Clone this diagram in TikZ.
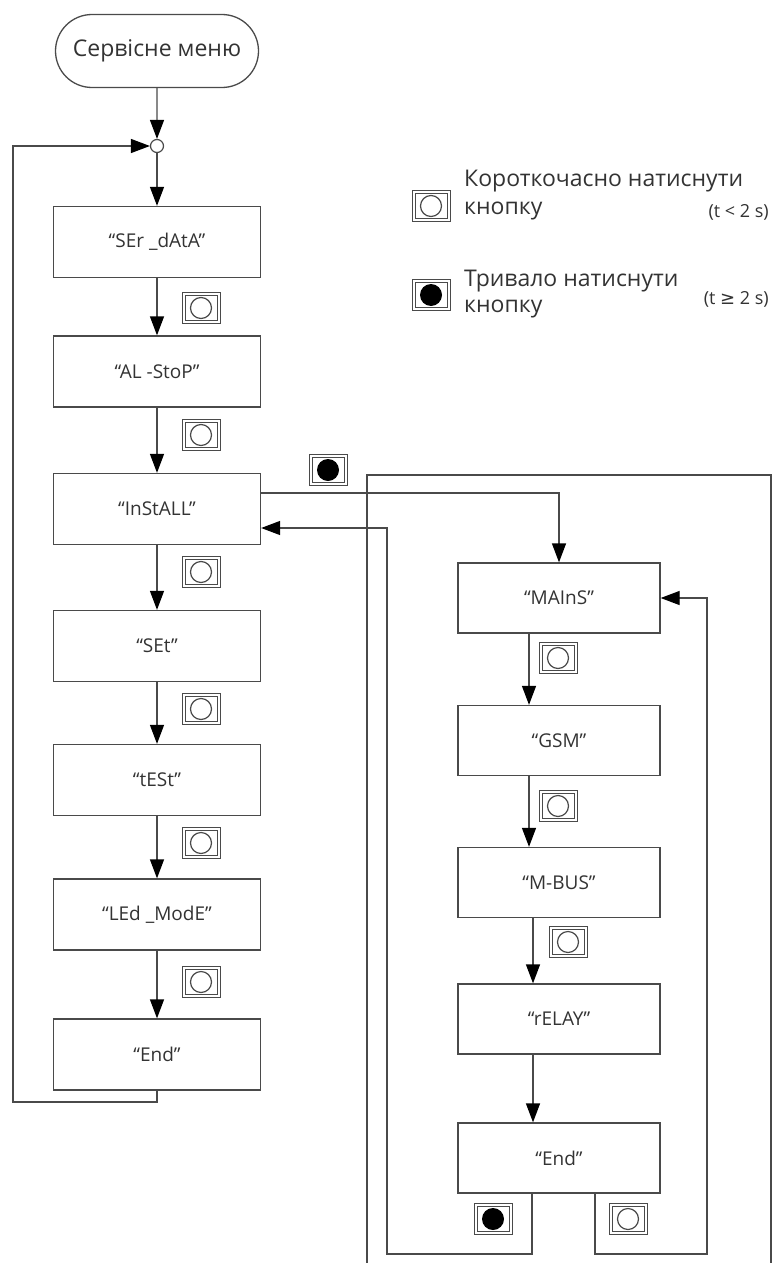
\documentclass[tikz,border=0pt]{standalone}
\usepackage{fontspec}
\setmainfont{Open Sans}
\newfontfamily\symfont{DejaVu Sans}
\usetikzlibrary{arrows.meta,shapes.misc}
\definecolor{lc}{HTML}{4A4A4A}
\definecolor{tc}{HTML}{333333}
\begin{document}
\begin{tikzpicture}[x=1pt,y=-1pt,
  line/.style={draw=lc, line width=1.3pt},
  arr/.style={line, -{Triangle[length=19pt,width=14pt,color=black]}},
  box/.style={draw=lc, line width=1.3pt, rectangle, minimum width=207pt, minimum height=71pt, inner sep=0pt, font=\fontsize{19}{22}\selectfont, text=tc},
  rbox/.style={box, minimum width=202pt, minimum height=70pt},
  term/.style={draw=lc, line width=1.3pt, rounded rectangle, minimum width=203pt, minimum height=73pt, inner sep=0pt, font=\fontsize{23}{26}\selectfont, text=tc},
  jnc/.style={draw=lc, line width=1.2pt, circle, fill=white, minimum size=13pt, inner sep=0pt},
  btn/.style={draw=lc, line width=1pt, minimum width=38pt, minimum height=31pt, inner sep=0pt},
  btnw/.style={btn, path picture={
    \draw[lc,line width=1pt] ([shift={(3pt,3pt)}]path picture bounding box.south west) rectangle ([shift={(-3pt,-3pt)}]path picture bounding box.north east);
    \draw[lc,line width=1.2pt] (path picture bounding box.center) circle (10.5pt);}},
  btnb/.style={btn, path picture={
    \draw[lc,line width=1pt] ([shift={(3pt,3pt)}]path picture bounding box.south west) rectangle ([shift={(-3pt,-3pt)}]path picture bounding box.north east);
    \fill[black] (path picture bounding box.center) circle (11pt);}},
  lgd/.style={anchor=west, inner sep=0pt, font=\fontsize{23}{26}\selectfont, text=tc},
  lgs/.style={anchor=east, inner sep=0pt, font=\fontsize{18}{21}\selectfont, text=tc}
]
\useasboundingbox (0,0) rectangle (775,1263);

% left column
\node[term] (start) at (157,51) {Сервісне меню};
\node[jnc] (jn) at (157,146) {};
\node[box] (ser) at (157,242) {“SEr \_dAtA”};
\node[box] (al) at (157,371.5) {“AL -StoP”};
\node[box] (inst) at (157,509) {“InStALL”};
\node[box] (set) at (157,646) {“SEt”};
\node[box] (test) at (157,780) {“tESt”};
\node[box] (led) at (157,914.5) {“LEd \_ModE”};
\node[box] (endl) at (157,1054.5) {“End”};

% right column
\node[rbox] (mains) at (559,598) {“MAInS”};
\node[rbox] (gsm) at (559,740.5) {“GSM”};
\node[rbox] (mbus) at (559,882.5) {“M-BUS”};
\node[rbox] (relay) at (559,1019) {“rELAY”};
\node[rbox] (endr) at (559,1158) {“End”};

% frame
\coordinate (fl) at (367,1263);
\coordinate (ftr) at (771,475);
\coordinate (fr) at (771,1263);
\draw[line] (fl) |- (ftr) -- (fr);

% left connectors
\draw[arr] (start) -- (jn);
\draw[arr] (jn) -- (ser);
\draw[arr] (ser) -- (al);
\draw[arr] (al) -- (inst);
\draw[arr] (inst) -- (set);
\draw[arr] (set) -- (test);
\draw[arr] (test) -- (led);
\draw[arr] (led) -- (endl);
\coordinate (lb) at (13,1102);
\draw[arr] (endl.south) |- (lb) |- (jn.west);

% to sub-menu
\draw[arr] ([yshift=16pt]inst.east) -| (mains.north);

% right connectors
\draw[arr] ([xshift=-30pt]mains.south) -- ([xshift=-30pt]gsm.north);
\draw[arr] ([xshift=-30pt]gsm.south) -- ([xshift=-30pt]mbus.north);
\draw[arr] ([xshift=-26pt]mbus.south) -- ([xshift=-26pt]relay.north);
\draw[arr] ([xshift=-26pt]relay.south) -- ([xshift=-26pt]endr.north);

\coordinate (bl) at (387,1254);
\coordinate (br) at (707,1254);
\draw[arr] ([xshift=-27pt]endr.south) |- (bl) |- ([yshift=-19pt]inst.east);
\draw[arr] ([xshift=36pt]endr.south) |- (br) |- (mains.east);

% buttons
\node[btnw] (b1) at (201,308) {};
\node[btnw] (b2) at (201,435) {};
\node[btnw] (b3) at (201,572) {};
\node[btnw] (b4) at (201,709) {};
\node[btnw] (b5) at (201,843) {};
\node[btnw] (b6) at (201,982) {};
\node[btnb] (b7) at (328,470) {};
\node[btnw] (b8) at (558,658) {};
\node[btnw] (b9) at (558,806) {};
\node[btnw] (b10) at (568,942) {};
\node[btnb] (b11) at (493,1219) {};
\node[btnw] (b12) at (628,1219) {};

% legend
\node[btnw] (lw) at (431,206) {};
\node[btnb] (lb2) at (431,295) {};
\node[lgd] (l1) at (464,181) {Короткочасно натиснути};
\node[lgd] (l2) at (464,211) {кнопку};
\node[lgs] (l3) at (769,212) {(t < 2 s)};
\node[lgd] (l4) at (464,281) {Тривало натиснути};
\node[lgd] (l5) at (464,309) {кнопку};
\node[lgs] (l6) at (769,299) {(t {\symfont ≥} 2 s)};
\end{tikzpicture}
\end{document}
